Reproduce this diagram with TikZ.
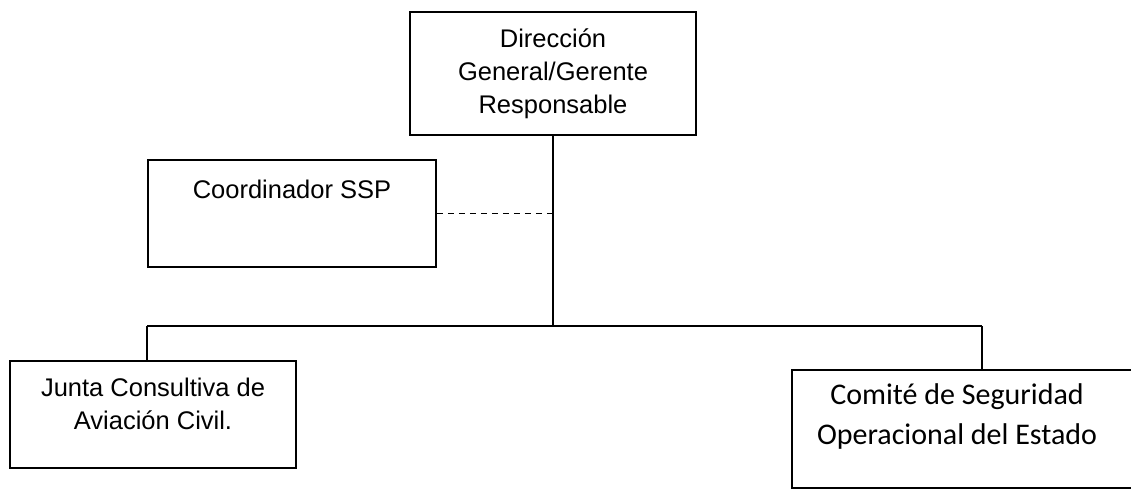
\documentclass[tikz,border=0pt]{standalone}
\usepackage{fontspec}
\setmainfont{Liberation Sans}
\newfontfamily\calibrifont{Carlito}

\begin{document}
\begin{tikzpicture}[x=1pt, y=-1pt,
        orgbox/.style={draw, line width=1.9pt, inner sep=0pt},
        orgtext/.style={align=center, inner sep=0pt, font=\fontsize{25.5}{33}\selectfont},
        orgline/.style={line width=1.6pt}]
                \useasboundingbox (0,0) rectangle (1131,491);
                \clip (0,0) rectangle (1131,491);
                % Boxes
                \node [orgbox, orgtext, minimum width=286pt, minimum height=123pt] (dir) at (553,73.5) {Dirección\\General/Gerente\\Responsable};
                \node [orgbox, minimum width=288pt, minimum height=107pt] (coord) at (292,213.5) {};
                \node [orgbox, minimum width=286pt, minimum height=107pt] (junta) at (153,414.5) {};
                \node [orgbox, minimum width=348pt, minimum height=118pt] (comite) at (966,429) {};

                % Texts
                \node [orgtext] (coordtext) at (292,189) {Coordinador SSP};
                \node [orgtext] (juntatext) at (153,404) {Junta Consultiva de\\Aviación Civil.};
                \node [orgtext, font=\calibrifont\fontsize{30}{40}\selectfont] (comitetext) at (957,416) {Comité de Seguridad\\Operacional del Estado};

                % Lines
                \coordinate (busL) at (147,326);
                \coordinate (busR) at (982,326);
                \draw [orgline] (dir.south) -- (dir.south |- busL);
                \draw [orgline] (busL) -- (busR);
                \draw [orgline] (busL) -- (busL |- junta.north);
                \draw [orgline] (busR) -- (busR |- comite.north);
                \draw [line width=1.2pt, dash pattern=on 6pt off 5pt] (coord.east) -- (coord.east -| dir.south);
            \end{tikzpicture}
\end{document}
